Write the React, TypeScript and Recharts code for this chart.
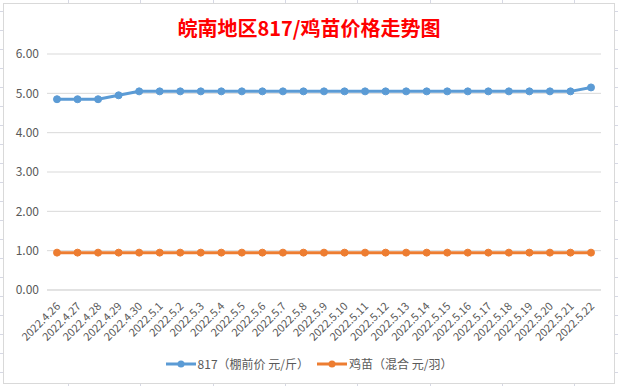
import React from "react";
import {
  LineChart,
  Line,
  XAxis,
  YAxis,
  CartesianGrid,
  Legend,
} from "recharts";

const dates = [
  "2022.4.26", "2022.4.27", "2022.4.28", "2022.4.29", "2022.4.30",
  "2022.5.1", "2022.5.2", "2022.5.3", "2022.5.4", "2022.5.5",
  "2022.5.6", "2022.5.7", "2022.5.8", "2022.5.9", "2022.5.10",
  "2022.5.11", "2022.5.12", "2022.5.13", "2022.5.14", "2022.5.15",
  "2022.5.16", "2022.5.17", "2022.5.18", "2022.5.19", "2022.5.20",
  "2022.5.21", "2022.5.22",
];

const price817 = [
  4.85, 4.85, 4.85, 4.95, 5.05, 5.05, 5.05, 5.05, 5.05, 5.05,
  5.05, 5.05, 5.05, 5.05, 5.05, 5.05, 5.05, 5.05, 5.05, 5.05,
  5.05, 5.05, 5.05, 5.05, 5.05, 5.05, 5.15,
];

const chickPrice = [
  0.95, 0.95, 0.95, 0.95, 0.95, 0.95, 0.95, 0.95, 0.95, 0.95,
  0.95, 0.95, 0.95, 0.95, 0.95, 0.95, 0.95, 0.95, 0.95, 0.95,
  0.95, 0.95, 0.95, 0.95, 0.95, 0.95, 0.95,
];

const yTicks = [0, 1, 2, 3, 4, 5, 6];

const data = dates.map((d, i) => ({
  date: d,
  p817: price817[i],
  chick: chickPrice[i],
}));

const FONT = '"Noto Sans CJK SC", "Noto Sans", sans-serif';
const TEXT = "#595959";

function DateTick(props: any) {
  const { x, y, payload } = props;
  const ax = x + 4;
  const ay = y + 9;
  return (
    <text
      x={ax}
      y={ay}
      transform={`rotate(-45, ${ax}, ${ay})`}
      textAnchor="end"
      fontSize={11}
      fill={TEXT}
      fontFamily={FONT}
    >
      {payload.value}
    </text>
  );
}

function LegendContent(props: any) {
  const items = [
    { label: "817（棚前价 元/斤）", color: "#5B9BD5" },
    { label: "鸡苗（混合 元/羽）", color: "#ED7D31" },
  ];
  return (
    <div
      style={{
        display: "flex",
        justifyContent: "center",
        alignItems: "center",
        fontFamily: FONT,
        fontSize: 12,
        color: TEXT,
      }}
    >
      {items.map((it) => (
        <div
          key={it.label}
          style={{ display: "flex", alignItems: "center", margin: "0 4px" }}
        >
          <svg width={30} height={10} style={{ marginRight: 2 }}>
            <line x1={0} y1={5} x2={30} y2={5} stroke={it.color} strokeWidth={3} />
            <circle cx={15} cy={5} r={3.5} fill={it.color} />
          </svg>
          <span>{it.label}</span>
        </div>
      ))}
    </div>
  );
}

export default function App() {
  return (
    <div
      style={{
        position: "fixed",
        left: 0,
        top: 0,
        width: 618,
        height: 386,
        backgroundColor: "#ffffff",
        backgroundImage:
          "repeating-linear-gradient(to right, transparent 0px, transparent 68px, #d6d8e4 68px, #d6d8e4 69px, transparent 69px, transparent 72.3px), repeating-linear-gradient(to bottom, transparent 0px, transparent 11px, #d6d8e4 11px, #d6d8e4 12px, transparent 12px, transparent 19px)",
      }}
    >
      <div
        style={{
          position: "absolute",
          left: 3,
          top: 3,
          width: 612,
          height: 381,
          boxSizing: "border-box",
          border: "1px solid #d9d9d9",
          background: "#ffffff",
        }}
      >
        <div
          style={{
            position: "absolute",
            left: 0,
            top: 12,
            width: 610,
            textAlign: "center",
            color: "#ff0000",
            fontWeight: "bold",
            fontSize: 20,
            fontFamily: FONT,
            lineHeight: "24px",
          }}
        >
          皖南地区817/鸡苗价格走势图
        </div>
        <LineChart
          width={610}
          height={379}
          data={data}
          margin={{ top: 50, right: 13, bottom: 0, left: 0 }}
        >
          <CartesianGrid vertical={false} stroke="#d9d9d9" />
          <XAxis
            dataKey="date"
            interval={0}
            height={93}
            padding={{ left: 10, right: 10 }}
            tick={<DateTick />}
            tickLine={false}
            axisLine={{ stroke: "#d9d9d9" }}
          />
          <YAxis
            domain={[0, 6]}
            ticks={yTicks}
            width={43}
            tickFormatter={(v: number) => v.toFixed(2)}
            tick={{ fontSize: 12, fill: TEXT, fontFamily: FONT }}
            tickLine={false}
            axisLine={false}
            tickSize={6}
            tickMargin={2}
          />
          <Legend
            verticalAlign="middle"
            align="center"
            layout="horizontal"
            content={<LegendContent />}
            wrapperStyle={{ top: 351, left: 0, width: 610 }}
          />
          <Line
            type="linear"
            dataKey="p817"
            name="817（棚前价 元/斤）"
            stroke="#5B9BD5"
            strokeWidth={3}
            dot={{ r: 3.5, fill: "#5B9BD5", stroke: "#5B9BD5", strokeWidth: 1 }}
            isAnimationActive={false}
          />
          <Line
            type="linear"
            dataKey="chick"
            name="鸡苗（混合 元/羽）"
            stroke="#ED7D31"
            strokeWidth={3}
            dot={{ r: 3.5, fill: "#ED7D31", stroke: "#ED7D31", strokeWidth: 1 }}
            isAnimationActive={false}
          />
        </LineChart>
      </div>
    </div>
  );
}
